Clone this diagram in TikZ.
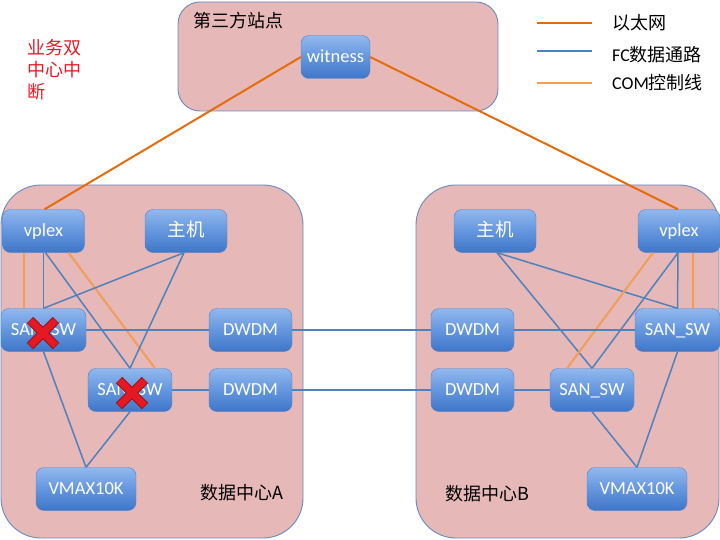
\documentclass[tikz,border=0pt]{standalone}
\usepackage{fontspec}
\setmainfont{Carlito}
\newfontfamily\cjk{Noto Sans CJK SC}
\usetikzlibrary{calc}
\definecolor{zonefill}{RGB}{230,185,184}
\definecolor{zoneline}{RGB}{104,138,192}
\definecolor{fcblue}{RGB}{79,129,189}
\definecolor{ethor}{RGB}{228,108,10}
\definecolor{comor}{RGB}{241,156,88}
\definecolor{nodetop}{RGB}{145,184,238}
\definecolor{nodemid}{RGB}{100,150,222}
\definecolor{nodebot}{RGB}{62,118,200}
\definecolor{nodeline}{RGB}{85,130,200}
\definecolor{xred}{RGB}{230,25,35}
\definecolor{xdark}{RGB}{150,20,25}
\tikzset{
  zone/.style={draw=zoneline, fill=zonefill, line width=0.9pt},
  dev/.style={draw=nodeline, rounded corners=8pt, top color=nodetop, bottom color=nodebot,
    middle color=nodemid,
    text=white, minimum width=82pt, minimum height=43pt, inner sep=0pt,
    text height=12pt, text depth=1pt,
    font=\fontsize{18.5}{21}\selectfont},
  fc/.style={draw=fcblue, line width=1.5pt},
  eth/.style={draw=ethor, line width=2pt},
  com/.style={draw=comor, line width=2pt},
  lbl/.style={inner sep=0pt, anchor=west, font=\fontsize{18}{21}\selectfont},
}
\begin{document}
\begin{tikzpicture}[x=1pt,y=-1pt]
\useasboundingbox (0,0) rectangle (720,540);
% zones
\draw[zone, rounded corners=22pt] (178,2) rectangle (498,111);
\draw[zone, rounded corners=40pt] (1,185) rectangle (303,538);
\draw[zone, rounded corners=40pt] (416,185) rectangle (719,538);
\node[lbl] (tp) at (193,21) {\cjk 第三方站点};
\node[lbl] (dca) at (200,493) {\cjk 数据中心A};
\node[lbl] (dcb) at (445,494) {\cjk 数据中心B};
% red note
\node[inner sep=0pt, anchor=north west, text=xred, align=left,
  font=\fontsize{18}{22}\selectfont\cjk] (note) at (27,39) {业务双\\中心中\\断};
% legend
\coordinate (l1a) at (537,23); \coordinate (l1b) at (592,23);
\coordinate (l2a) at (537,51); \coordinate (l2b) at (592,51);
\coordinate (l3a) at (537,83); \coordinate (l3b) at (592,83);
\draw[eth] (l1a) -- (l1b);
\draw[fc] (l2a) -- (l2b);
\draw[com] (l3a) -- (l3b);
\node[lbl] (t1) at (612,23) {\cjk 以太网};
\node[lbl] (t2) at (612,55) {FC{\cjk 数据通路}};
\node[lbl] (t3) at (612,83) {COM{\cjk 控制线}};
% devices
\node[dev, minimum width=69pt] (wit) at (335.5,57) {witness};
\node[dev] (vpA) at (43.5,231) {vplex};
\node[dev] (hA) at (186,231) {\cjk 主机};
\node[dev, minimum width=85pt] (swA1) at (43.5,330) {SAN\_SW};
\node[dev, minimum width=83pt] (dwA1) at (250.5,330) {DWDM};
\node[dev, minimum width=84pt] (swA2) at (130,390) {SAN\_SW};
\node[dev, minimum width=83pt] (dwA2) at (250.5,390) {DWDM};
\node[dev, minimum width=100pt] (vmA) at (86,489) {VMAX10K};
\node[dev] (hB) at (495,231) {\cjk 主机};
\node[dev] (vpB) at (679,231) {vplex};
\node[dev, minimum width=83pt] (dwB1) at (472.5,330) {DWDM};
\node[dev, minimum width=85pt] (swB1) at (677.5,330) {SAN\_SW};
\node[dev, minimum width=83pt] (dwB2) at (472.5,390) {DWDM};
\node[dev, minimum width=84pt] (swB2) at (592,390) {SAN\_SW};
\node[dev, minimum width=100pt] (vmB) at (637,489) {VMAX10K};
% ethernet
\draw[eth] (wit.west) -- ([xshift=1pt]vpA.north);
\draw[eth] (wit.east) -- ([xshift=-1pt]vpB.north);
% left FC
\draw[com] ([xshift=-20pt]vpA.south) -- ([xshift=-20pt]swA1.north);
\draw[fc] (vpA.south) -- (swA1.north);
\draw[fc] ([xshift=2pt]vpA.south) -- (swA2.north);
\draw[com] ([xshift=25pt]vpA.south) -- ([xshift=25pt]swA2.north);
\draw[fc] ([xshift=-2pt]hA.south) -- (swA1.north);
\draw[fc] ([xshift=-2pt]hA.south) -- (swA2.north);
\draw[fc] (swA1.east) -- (dwA1.west);
\draw[fc] (swA2.east) -- (dwA2.west);
\draw[fc] (dwA1.east) -- (dwB1.west);
\draw[fc] (dwA2.east) -- (dwB2.west);
\draw[fc] (swA1.south) -- (vmA.north);
\draw[fc] (swA2.south) -- (vmA.north);
% right FC
\draw[fc] ([xshift=2pt]hB.south) -- (swB1.north);
\draw[fc] ([xshift=2pt]hB.south) -- (swB2.north);
\draw[fc] ([xshift=-1pt]vpB.south) -- (swB2.north);
\draw[fc] ([xshift=-1pt]vpB.south) -- (swB1.north);
\draw[com] ([xshift=-26pt]vpB.south) -- ([xshift=-25pt]swB2.north);
\draw[com] ([xshift=14pt]vpB.south) -- ([xshift=15.5pt]swB1.north);
\draw[fc] (dwB1.east) -- (swB1.west);
\draw[fc] (dwB2.east) -- (swB2.west);
\draw[fc] (swB2.south) -- (vmB.north);
\draw[fc] (swB1.south) -- (vmB.north);
% red crosses
\coordinate (xa) at (43,333);
\coordinate (xb) at (132,393);
\foreach \c in {xa,xb} {
  \draw[xdark, line width=9pt] ($(\c)+(-13,-13)$) -- ($(\c)+(13,13)$);
  \draw[xdark, line width=9pt] ($(\c)+(-13,13)$) -- ($(\c)+(13,-13)$);
  \draw[xred, line width=7pt] ($(\c)+(-12.5,-12.5)$) -- ($(\c)+(12.5,12.5)$);
  \draw[xred, line width=7pt] ($(\c)+(-12.5,12.5)$) -- ($(\c)+(12.5,-12.5)$);
}
\end{tikzpicture}
\end{document}
